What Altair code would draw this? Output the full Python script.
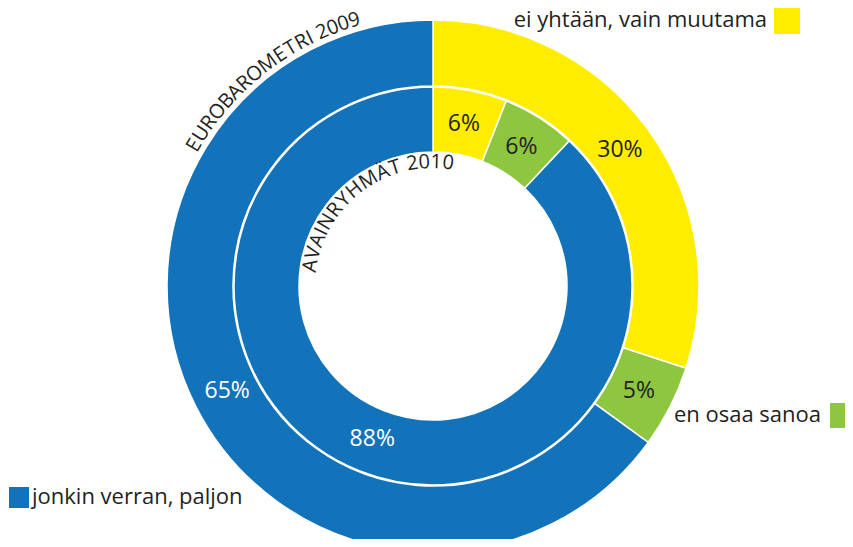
import math
import altair as alt
import pandas as pd

# ---------------- data ----------------
categories = ["ei yhtään, vain muutama", "en osaa sanoa", "jonkin verran, paljon"]
colors = ["#FFED00", "#8DC63F", "#1273BB"]
eurobarometri_2009 = [30, 5, 65]
avainryhmat_2010 = [6, 6, 88]
outer_title = "EUROBAROMETRI 2009"
inner_title = "AVAINRYHMÄT 2010"

# ---------------- layout ----------------
W, H = 837, 531
CX, CY = 425, 278
FONT = "Open Sans"
DARK = "#231F20"

rows = []
for ring, vals in (("outer", eurobarometri_2009), ("inner", avainryhmat_2010)):
    for i, (c, v) in enumerate(zip(categories, vals)):
        rows.append(dict(ring=ring, cat=c, value=v, ord=i, label=f"{v}%"))
df = pd.DataFrame(rows)

color_scale = alt.Scale(domain=categories, range=colors)


def ring_layers(name, r_in, r_out, r_lab):
    d = df[df.ring == name]
    base = alt.Chart(d).encode(
        theta=alt.Theta("value:Q", stack=True, scale=alt.Scale(domain=[0, 100])),
        order=alt.Order("ord:Q"),
        x=alt.value(CX),
        y=alt.value(CY),
    )
    arc = base.mark_arc(radius=r_out, radius2=r_in, stroke="white", strokeWidth=1.5).encode(
        color=alt.Color("cat:N", scale=color_scale, legend=None)
    )
    txt = base.mark_text(radius=r_lab, font=FONT, fontSize=23).encode(
        text="label:N",
        color=alt.condition("datum.ord == 2", alt.value("white"), alt.value(DARK)),
    )
    return [arc, txt]


# approximate advance widths (em) for curved-text spacing
ADV = {" ": 0.26, "I": 0.29, "M": 0.9, "O": 0.78, "U": 0.73, "H": 0.76, "N": 0.77}


def arc_text(text, start_deg, end_deg, R):
    widths = [ADV.get(ch, 0.57 if ch.isdigit() else 0.63) for ch in text]
    cum, s = [], 0.0
    for w in widths:
        cum.append(s + w / 2)
        s += w
    out = []
    for ch, c in zip(text, cum):
        t = start_deg + (c - cum[0]) / (cum[-1] - cum[0]) * (end_deg - start_deg)
        t = t % 360
        out.append(dict(ch=ch, deg=t, rot=t))
    d = pd.DataFrame(out)
    return alt.Chart(d).mark_text(
        radius=R, font=FONT, fontSize=20, color=DARK, align="center", baseline="middle"
    ).encode(
        theta=alt.Theta("deg:Q", scale=alt.Scale(domain=[0, 360], range=[0, 2 * math.pi])),
        angle=alt.Angle("rot:Q", scale=None),
        text="ch:N",
        x=alt.value(CX),
        y=alt.value(CY),
    )


layers = []
layers += ring_layers("outer", 200, 266, 231)
layers += ring_layers("inner", 134, 199, 165)
layers.append(arc_text(outer_title, 300.5, 343.5, 277))
layers.append(arc_text(inner_title, 279.4, 367.0, 124))

# legend annotations
leg = pd.DataFrame({"cat": categories})
legend_specs = [
    # text anchor x, baseline y, align, rect x, x2, y, y2
    (categories[0], 759, 19, "right", 766, 792, 0, 26),
    (categories[1], 813, 414, "right", 822, 846, 395, 420),
    (categories[2], 24, 496, "left", 1, 21, 479, 500),
]
for cat, tx, ty, al, rx, rx2, ry, ry2 in legend_specs:
    d = leg[leg.cat == cat]
    layers.append(
        alt.Chart(d).mark_text(font=FONT, fontSize=22, color=DARK, align=al, baseline="alphabetic").encode(
            text="cat:N", x=alt.value(tx), y=alt.value(ty)
        )
    )
    layers.append(
        alt.Chart(d).mark_rect().encode(
            color=alt.Color("cat:N", scale=color_scale, legend=None),
            x=alt.value(rx), x2=alt.value(rx2), y=alt.value(ry), y2=alt.value(ry2),
        )
    )

chart = (
    alt.layer(*layers)
    .resolve_scale(theta="independent")
    .properties(width=W, height=H, padding=0, autosize=alt.AutoSizeParams(type="none"), background="white")
    .configure_view(stroke=None)
)

chart.save("out.html", embed_options={"renderer": "svg", "actions": False})
